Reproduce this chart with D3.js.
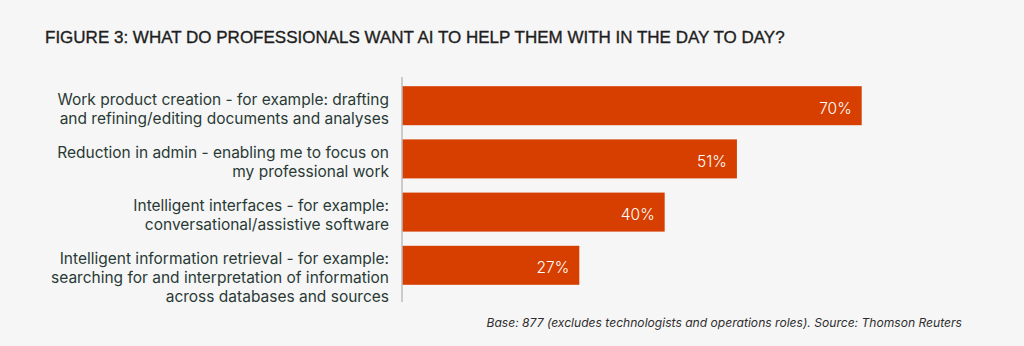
<!DOCTYPE html>
<html>
<head>
<meta charset="utf-8">
<script src="https://cdn.jsdelivr.net/npm/d3@7"></script>
<style>
  html, body { margin: 0; padding: 0; background: #f6f6f6; }
  svg { display: block; }
</style>
</head>
<body>
<svg id="chart" width="1024" height="346"></svg>
<script>
// Survey answers, one entry per bar (label lines kept as they wrap in print)
const categories = [
  ["Work product creation - for example: drafting", "and refining/editing documents and analyses"],
  ["Reduction in admin - enabling me to focus on", "my professional work"],
  ["Intelligent interfaces - for example:", "conversational/assistive software"],
  ["Intelligent information retrieval - for example:", "searching for and interpretation of information", "across databases and sources"]
];
const values = [70, 51, 40, 27];
const title = "FIGURE 3: WHAT DO PROFESSIONALS WANT AI TO HELP THEM WITH IN THE DAY TO DAY?";
const footnote = "Base: 877 (excludes technologists and operations roles). Source: Thomson Reuters";

const svg = d3.select("#chart");
const W = 1024, H = 346;
svg.append("rect").attr("width", W).attr("height", H).attr("fill", "#f6f6f6");

const axisX = 402;
const x = d3.scaleLinear().domain([0, 100]).range([axisX, axisX + 656.7]);
const y = d3.scaleBand()
  .domain(d3.range(categories.length))
  .range([72, 299])
  .padding(0.267);

// Title
svg.append("text")
  .attr("x", 45).attr("y", 42.5)
  .attr("font-family", "'Liberation Sans', Arial, sans-serif")
  .attr("font-size", 17)
  .attr("fill", "#1e1e1e")
  .attr("stroke", "#1e1e1e")
  .attr("stroke-width", 0.35)
  .text(title);

// Bars
svg.append("g").selectAll("rect")
  .data(values)
  .join("rect")
  .attr("x", x(0))
  .attr("y", (d, i) => y(i))
  .attr("width", d => x(d) - x(0))
  .attr("height", y.bandwidth())
  .attr("fill", "#d63f00");

// Value labels inside bar ends
svg.append("g").selectAll("text")
  .data(values)
  .join("text")
  .attr("x", d => x(d) - 10)
  .attr("y", (d, i) => y(i) + y.bandwidth() / 2 + 2.5)
  .attr("text-anchor", "end")
  .attr("dominant-baseline", "central")
  .attr("font-family", "Inter, 'Noto Sans', sans-serif")
  .attr("font-weight", 300)
  .attr("font-size", 15.5)
  .attr("fill", "#ffffff")
  .text(d => d + "%");

// Category labels, right aligned against the axis
const labels = svg.append("g")
  .attr("font-family", "Inter, 'Noto Sans', sans-serif")
  .attr("font-size", 15.5)
  .attr("fill", "#2a3a35")
  .attr("text-anchor", "end");
categories.forEach((lines, i) => {
  const t = labels.append("text")
    .attr("x", 389)
    .attr("y", y(i) + 18.5);
  lines.forEach((ln, j) => {
    t.append("tspan")
      .attr("x", 389)
      .attr("dy", j === 0 ? 0 : 18.8)
      .text(ln);
  });
});

// Vertical baseline axis
svg.append("line")
  .attr("x1", axisX).attr("x2", axisX)
  .attr("y1", 77).attr("y2", 302)
  .attr("stroke", "#bdbdbd")
  .attr("stroke-width", 1.5);

// Source note
svg.append("text")
  .attr("x", 962).attr("y", 327)
  .attr("text-anchor", "end")
  .attr("font-family", "Inter, 'Noto Sans', sans-serif")
  .attr("font-style", "italic")
  .attr("font-size", 12.1)
  .attr("fill", "#2e2e2e")
  .text(footnote);
</script>
</body>
</html>
